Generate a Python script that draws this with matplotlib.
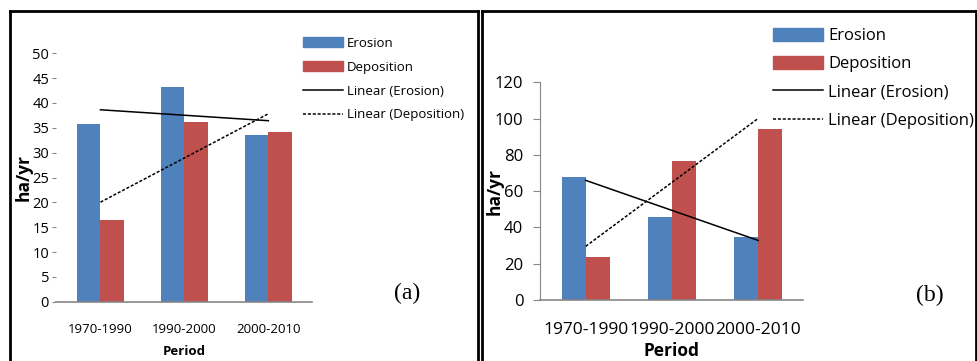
import numpy as np
import matplotlib
matplotlib.use("Agg")
import matplotlib.pyplot as plt
from matplotlib.lines import Line2D
from matplotlib.patches import Patch

periods = ["1970-1990", "1990-2000", "2000-2010"]
erosion_a = [35.8, 43.2, 33.6]
deposition_a = [16.4, 36.2, 34.2]
erosion_b = [67.8, 45.7, 34.7]
deposition_b = [23.7, 76.6, 94.2]

BLUE, RED, GRAY = "#4F81BD", "#C0504D", "#868686"
plt.rcParams.update({"font.family": ["Open Sans", "DejaVu Sans"]})

W, H = 977, 361
fig = plt.figure(figsize=(W / 100, H / 100), dpi=100)


def px_axes(x0, x1, ytop, ybot):
    return fig.add_axes([x0 / W, 1 - ybot / H, (x1 - x0) / W, (ybot - ytop) / H])


def panel(ax, ero, dep, ylim, step, fs_y, fs_x, fs_leg, ypad, tick_len, leg_xy, leg_space, tag, tag_xy,
          show_yspine, xlab_pad, ylab_x):
    x = np.arange(len(periods))
    bw = 0.28
    ax.bar(x - bw / 2, ero, bw, color=BLUE, label="Erosion")
    ax.bar(x + bw / 2, dep, bw, color=RED, label="Deposition")
    # linear trend lines (Excel-style), fitted on the bar values
    pe = np.polyfit(x, ero, 1)
    pd_ = np.polyfit(x, dep, 1)
    ax.plot(x[[0, -1]], np.polyval(pe, x[[0, -1]]), color="black", lw=1.1)
    ax.plot(x[[0, -1]], np.polyval(pd_, x[[0, -1]]), color="black", lw=1.1, ls=(0, (2, 1.2)))
    ax.set_xlim(-0.53, 2.52)
    ax.set_ylim(*ylim)
    ax.set_yticks(np.arange(ylim[0], ylim[1] + 1, step))
    ax.set_xticks(x, periods)
    for s in ["top", "right"]:
        ax.spines[s].set_visible(False)
    ax.spines["left"].set_visible(show_yspine)
    ax.spines["left"].set_color(GRAY)
    ax.spines["bottom"].set_color(GRAY)
    ax.spines["bottom"].set_linewidth(1.2)
    ax.tick_params(axis="y", length=tick_len, color=GRAY, labelsize=fs_y, pad=ypad)
    ax.tick_params(axis="x", length=0, labelsize=fs_x, pad=15.5)
    ax.set_xlabel("Period", fontweight="bold", fontsize=fs_x, labelpad=xlab_pad)
    ax.set_ylabel("ha/yr", fontweight="bold", fontsize=12.5)
    ax.yaxis.set_label_coords(ylab_x, 0.5)
    handles = [Patch(color=BLUE), Patch(color=RED),
               Line2D([], [], color="black", lw=1.1),
               Line2D([], [], color="black", lw=1.1, ls=(0, (2, 1.2)))]
    labels = ["Erosion", "Deposition", "Linear (Erosion)", "Linear (Deposition)"]
    fig.legend(handles, labels, loc="upper left", bbox_to_anchor=(leg_xy[0] / W, 1 - leg_xy[1] / H),
               frameon=False, fontsize=fs_leg, handlelength=3.0, handleheight=0.8,
               labelspacing=leg_space, handletextpad=0.3, borderpad=0, borderaxespad=0)
    fig.text(tag_xy[0] / W, 1 - tag_xy[1] / H, tag, fontsize=17, family="Liberation Serif",
             ha="center", va="center")


ax_a = px_axes(56, 312, 53.3, 301.7)
panel(ax_a, erosion_a, deposition_a, (0, 50), 5, 10.5, 9.5, 9.5, 2, 3, (303, 37), 0.82,
      "(a)", (407, 293), False, 6, -0.092)
ax_b = px_axes(540, 803, 82.3, 300)
panel(ax_b, erosion_b, deposition_b, (0, 120), 20, 12, 12.5, 12, 7, 5, (773, 28), 0.72,
      "(b)", (930, 295), True, 3.5, -0.138)

# panel frames
frame = dict(color="black", lw=2, transform=fig.transFigure, clip_on=False)
for xs, ys in [([10, 10], [11, 361]), ([10, 478], [11, 11]), ([478, 478], [11, 361]),
               ([482, 482], [11, 361]), ([482, 976], [11, 11]), ([976, 976], [11, 361])]:
    fig.add_artist(Line2D([x / W for x in xs], [1 - y / H for y in ys], **frame))

fig.savefig("out.png", dpi=100)
